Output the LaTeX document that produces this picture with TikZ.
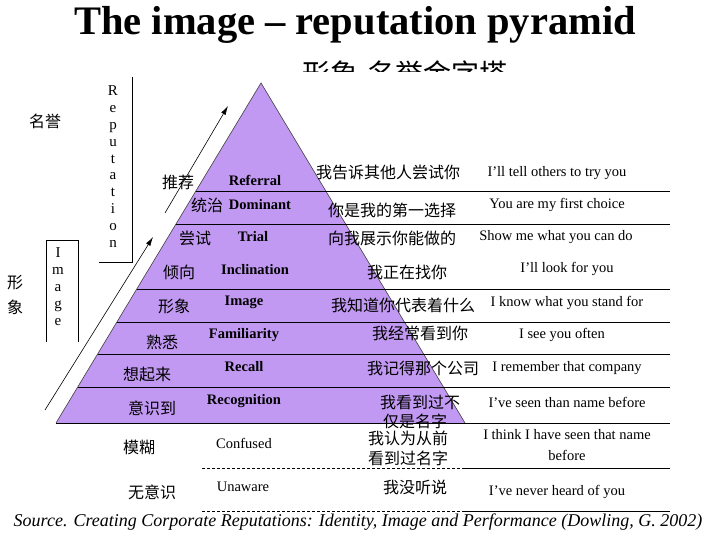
\documentclass[tikz,border=0pt]{standalone}
\usepackage{fontspec}
\setmainfont{Liberation Serif}
\newfontfamily\cjk{Noto Sans CJK SC}
\usetikzlibrary{arrows.meta}
\definecolor{pyr}{RGB}{193,152,242}
\begin{document}
\begin{tikzpicture}[x=1pt,y=-1pt,
  cn/.style={font=\cjk\fontsize{16}{18}\selectfont, inner sep=0pt},
  en/.style={font=\fontsize{14.5}{16}\selectfont, inner sep=0pt},
  enb/.style={font=\bfseries\fontsize{14.5}{16}\selectfont, inner sep=0pt},
  letter/.style={font=\fontsize{15}{16}\selectfont, inner sep=0pt, anchor=base},
  rule/.style={line width=0.9pt, black},
  dash rule/.style={line width=0.8pt, black, dash pattern=on 3pt off 2pt},
  thinbox/.style={line width=0.8pt, black},
  uparrow/.style={line width=0.6pt, black, -{Latex[length=9pt,width=5pt]}}]
\useasboundingbox[fill=white] (0,0) rectangle (720,540);

% title
\node[font=\bfseries\fontsize{40.5}{42}\selectfont, anchor=base, inner sep=0pt] (title) at (355,35) {The image – reputation pyramid};
\begin{scope}
  \clip (280,50) rectangle (530,72);
  \node[font=\cjk\fontsize{28}{30}\selectfont, anchor=base west, inner sep=0pt] (cntitle) at (302,85) {形象\hspace{9pt}名誉金字塔};
\end{scope}

% pyramid
\coordinate (apex) at (261,83);
\coordinate (bl) at (56,423);
\coordinate (br) at (465,423);
\fill[pyr] (apex) -- (bl) -- (br) -- cycle;
\draw[line width=0.6pt, gray!50!black] (bl) -- (apex) -- (br);

% horizontal rules
\draw[rule] (195.9,191) -- (670,191);
\draw[rule] (176.0,224) -- (670,224);
\draw[rule] (136.8,289) -- (670,289);
\draw[rule] (116.9,322) -- (670,322);
\draw[rule] (97.6,354) -- (670,354);
\draw[rule] (77.7,387) -- (670,387);
\draw[rule] (bl) -- (670,423);
\draw[dash rule] (202,468) -- (463,468);
\draw[rule] (463,468) -- (670,468);
\draw[dash rule] (202,511) -- (463,511);
\draw[rule] (463,511) -- (670,511);

% arrows
\coordinate (a1s) at (45,410);
\coordinate (a1e) at (153,237);
\coordinate (a2s) at (165,213);
\coordinate (a2e) at (228,106);
\draw[uparrow] (a1s) -- (a1e);
\draw[uparrow] (a2s) -- (a2e);

% Reputation box
\draw[thinbox] (132,77) -- (132,262) -- (99,262);
\foreach \c [count=\i from 0] in {R,e,p,u,t,a,t,i,o,n}
  \node[letter] (rep\i) at (113,{96+16.8*\i}) {\c};
% Image box
\draw[thinbox] (46,342) -- (46,240) -- (78,240) -- (78,342);
\foreach \c [count=\i from 0] in {I,m,a,g,e}
  \node[letter] (img\i) at (58,{257+17*\i}) {\c};

\node[cn] (mingyu) at (45,121) {名誉};
\node[cn] (xing) at (15,283) {形};
\node[cn] (xiang) at (15,307) {象};

% left chinese labels
\node[cn] (l1) at (178,182) {推荐};
\node[cn] (l2) at (207,205) {统治};
\node[cn] (l3) at (195,238) {尝试};
\node[cn] (l4) at (179,272) {倾向};
\node[cn] (l5) at (174,306) {形象};
\node[cn] (l6) at (162,342) {熟悉};
\node[cn] (l7) at (147,374) {想起来};
\node[cn] (l8) at (152,408) {意识到};
\node[cn] (l9) at (139,448) {模糊};
\node[cn] (l10) at (152,492) {无意识};

% english level labels
\node[enb] (e1) at (255,180) {Referral};
\node[enb] (e2) at (260,205) {Dominant};
\node[enb] (e3) at (253,237) {Trial};
\node[enb] (e4) at (255,270) {Inclination};
\node[enb] (e5) at (244,302) {Image};
\node[enb] (e6) at (244,335) {Familiarity};
\node[enb] (e7) at (244,367) {Recall};
\node[enb] (e8) at (244,401) {Recognition};
\node[en] (e9) at (244,443) {Confused};
\node[en] (e10) at (243,487) {Unaware};

% right chinese
\node[cn] (r1) at (388,172) {我告诉其他人尝试你};
\node[cn] (r2) at (392,210) {你是我的第一选择};
\node[cn] (r3) at (392,238) {向我展示你能做的};
\node[cn] (r4) at (407,272) {我正在找你};
\node[cn] (r5) at (403,305) {我知道你代表着什么};
\node[cn] (r6) at (420,333) {我经常看到你};
\node[cn] (r7) at (423,368) {我记得那个公司};
\node[cn] (r8a) at (420,402) {我看到过不};
\node[cn] (r8b) at (415,421) {仅是名字};
\node[cn] (r9a) at (408,438) {我认为从前};
\node[cn] (r9b) at (408,458) {看到过名字};
\node[cn] (r10) at (415,487) {我没听说};

% right english
\node[en] (s1) at (557,173) {I’ll tell others to try you};
\node[en] (s2) at (557,205) {You are my first choice};
\node[en] (s3) at (556,237) {Show me what you can do};
\node[en] (s4) at (567,269) {I’ll look for you};
\node[en] (s5) at (567,303) {I know what you stand for};
\node[en] (s6) at (562,335) {I see you often};
\node[en] (s7) at (567,368) {I remember that company};
\node[en] (s8) at (567,402) {I’ve seen than name before};
\node[en] (s9a) at (567,435) {I think I have seen that name};
\node[en] (s9b) at (567,455) {before};
\node[en] (s10) at (557,492) {I’ve never heard of you};

% source
\node[font=\itshape\fontsize{18}{20}\selectfont, inner sep=0pt] (src) at (358,522) {Source. Creating Corporate Reputations: Identity, Image and Performance (Dowling, G. 2002)};
\end{tikzpicture}
\end{document}
